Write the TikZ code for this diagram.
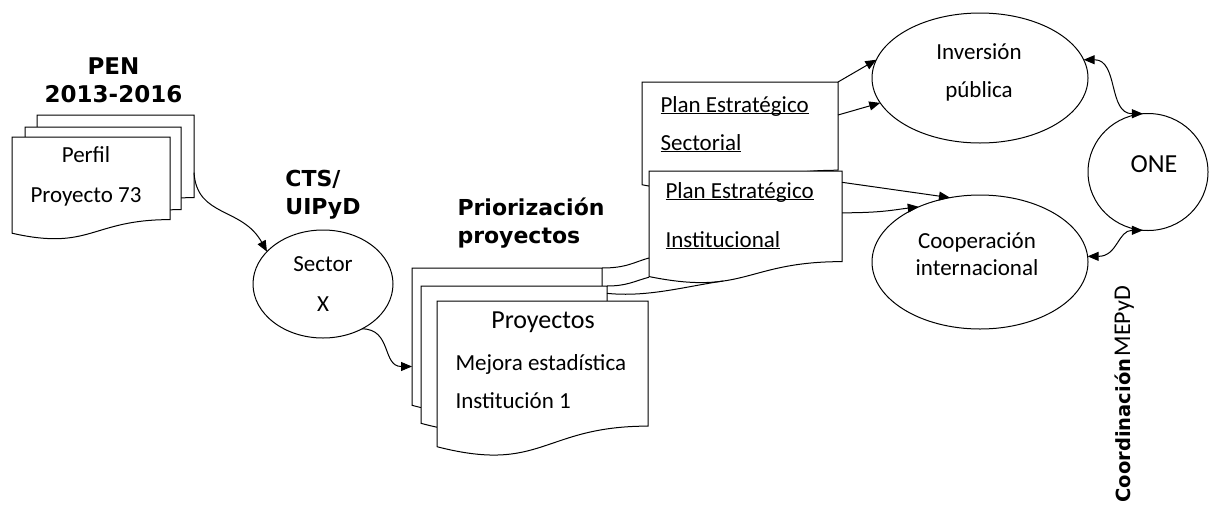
\documentclass[tikz,border=0pt]{standalone}
\usepackage{fontspec}
\setmainfont{Carlito}
\newfontfamily\headfont{DejaVu Sans}
\usetikzlibrary{positioning,arrows.meta,calc,shapes.geometric}

% underline sitting just below the baseline
\newcommand{\uln}[1]{\underline{\raisebox{0pt}[\height][0pt]{#1}}}
% sheet outline with a wavy bottom (drawn round an empty node)
\newcommand{\wavydoc}[1]{%
  \draw[fill=white] (#1.north west) -- (#1.north east)
    -- ($(#1.north east)!0.802!(#1.south east)$)
    .. controls ($(#1.north)!0.802!(#1.south)$) and ($(#1.north)!1.108!(#1.south)$)
    .. ($(#1.north west)!0.934!(#1.south west)$) -- cycle;}

\begin{document}
\begin{tikzpicture}[x=1pt,y=-1pt,line width=1pt,
  sheet/.style={inner sep=0,outer sep=0,anchor=north west},
  ellip/.style={draw,ellipse,inner sep=0,outer sep=0},
  txt/.style={inner sep=0,font=\fontsize{23}{#1}\selectfont},
  txt/.default=38,
  head/.style={inner sep=0,font=\headfont\bfseries\fontsize{#1}{28}\selectfont},
  head/.default=22,
  link/.style={-{Triangle[length=11pt,width=9pt]}},
  dlink/.style={{Triangle[length=11pt,width=9pt]}-{Triangle[length=11pt,width=9pt]}},
]
  \useasboundingbox (0,0) rectangle (1209,504);

  % PEN stack
  \node[sheet,minimum width=157pt,minimum height=103pt] (pen3) at (37,115) {};
  \wavydoc{pen3}
  \node[sheet,minimum width=156pt,minimum height=103pt] (pen2) at (25,127) {};
  \wavydoc{pen2}
  \node[sheet,minimum width=158pt,minimum height=103pt] (pen1) at (12,137) {};
  \wavydoc{pen1}
  \node[txt=40,align=center,anchor=base] (perfil) at (86,202) {Perfil\\Proyecto 73};
  \node[head=23,align=center,above=12pt of pen3,xshift=-2pt] (pen) {PEN\\2013-2016};

  % Sector
  \node[ellip,txt=40,align=center,minimum width=140pt,minimum height=108pt] (sector) at (323,284) {Sector\\X};
  \node[head,align=left,above=10pt of sector] (cts) {CTS/\\UIPyD};

  % Proyectos stack
  \node[sheet,minimum width=190pt,minimum height=147pt] (pro3) at (412,268) {};
  \wavydoc{pro3}
  \node[sheet,minimum width=186pt,minimum height=147pt] (pro2) at (421,286) {};
  \wavydoc{pro2}
  \node[sheet,minimum width=211pt,minimum height=156pt] (pro1) at (437,301) {};
  \wavydoc{pro1}
  \node[txt,font=\fontsize{26}{30}\selectfont,anchor=base] (proytit) at (543,328) {Proyectos};
  \node[txt,align=left,anchor=base west] (proytxt) at (455,408) {Mejora estadística\\Institución 1};
  \node[head,align=left,anchor=base west] (prior) at (457,243) {Priorización\\proyectos};

  % plans
  \node[sheet,minimum width=196pt,minimum height=110pt] (sect) at (642,82) {};
  \wavydoc{sect}
  \node[txt,align=left,anchor=base west] (secttxt) at (660,150) {\uln{Plan Estratégico}\\\uln{Sectorial}};
  \node[sheet,minimum width=193pt,minimum height=113pt] (inst) at (649,171) {};
  \wavydoc{inst}
  \node[txt=49,align=left,anchor=base west] (insttxt) at (665,247) {\uln{Plan Estratégico}\\\uln{Institucional}};

  % ellipses on the right
  \node[ellip,minimum width=216pt,minimum height=130pt] (inv) at (980,78) {};
  \node[txt,align=center,anchor=base] (invtxt) at (979,97) {Inversión\\pública};
  \node[ellip,minimum width=216pt,minimum height=134pt] (coop) at (980,262) {};
  \node[txt=27,align=center,anchor=base] (cooptxt) at (977,275) {Cooperación\\internacional};
  \node[ellip,minimum width=120pt,minimum height=117pt] (one) at (1148,172) {};
  \node[txt,font=\fontsize{26}{30}\selectfont,anchor=base] (onetxt) at (1154,172) {ONE};

  \node[rotate=90,anchor=base west,inner sep=0] (coord) at (1130,503)
    {{\headfont\bfseries\fontsize{19.5}{24}\selectfont Coordinación} {\fontsize{24}{28}\selectfont MEPyD}};

  % connectors
  \draw[link] ($(pen3.north east)!0.56!(pen3.south east)$) .. controls +(3,45) and +(-25,-45) .. (sector.150);
  \draw[link] (sector.-49) .. controls +(30,0) and +(-30,0) .. ($(pro3.north west)!0.67!(pro3.south west)$);

  \draw (pro3.north east) .. controls +(25,0) and +(-15,4) .. ($(inst.north west)!0.77!(inst.south west)$);
  \draw (pro2.north east) .. controls +(20,0) and +(-15,4) .. ($(inst.north west)!0.94!(inst.south west)$);
  \draw ($(pro2.north east)!0.05!(pro2.south east)$) .. controls +(40,4) and +(-40,6) .. ($(inst.north west)+(74,110)$);

  \draw[link] (sect.north east) -- (inv.170);
  \draw[link] ($(sect.north east)!0.3!(sect.south east)$) -- (inv.194);
  \draw[link] ($(inst.north east)!0.1!(inst.south east)$) -- (coop.115);
  \draw[link] ($(inst.north east)!0.37!(inst.south east)$) .. controls +(40,0) and +(-25,3) .. (coop.138);

  \draw[dlink] (inv.10) .. controls +(35,0) and +(-35,0) .. (one.95);
  \draw[dlink] (coop.3) .. controls +(30,0) and +(-25,0) .. (one.-95);
\end{tikzpicture}
\end{document}
